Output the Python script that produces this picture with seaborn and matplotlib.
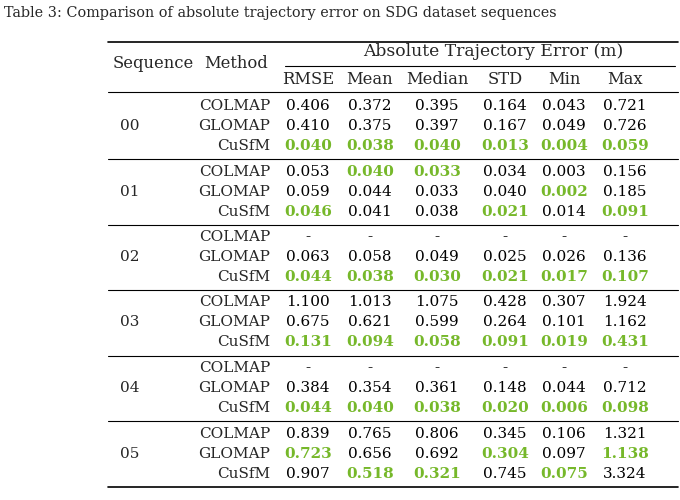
import matplotlib
matplotlib.use("Agg")
import matplotlib.pyplot as plt
import seaborn as sns

sns.set_theme(style="white")
plt.rcParams['font.family'] = ['DejaVu Serif']

title = "Table 3: Comparison of absolute trajectory error on SDG dataset sequences"
sequences = ["00", "01", "02", "03", "04", "05"]
methods = ["COLMAP", "GLOMAP", "CuSfM"]
metrics = ["RMSE", "Mean", "Median", "STD", "Min", "Max"]
values = {
    "00": [["0.406", "0.372", "0.395", "0.164", "0.043", "0.721"],
           ["0.410", "0.375", "0.397", "0.167", "0.049", "0.726"],
           ["0.040", "0.038", "0.040", "0.013", "0.004", "0.059"]],
    "01": [["0.053", "0.040", "0.033", "0.034", "0.003", "0.156"],
           ["0.059", "0.044", "0.033", "0.040", "0.002", "0.185"],
           ["0.046", "0.041", "0.038", "0.021", "0.014", "0.091"]],
    "02": [["-", "-", "-", "-", "-", "-"],
           ["0.063", "0.058", "0.049", "0.025", "0.026", "0.136"],
           ["0.044", "0.038", "0.030", "0.021", "0.017", "0.107"]],
    "03": [["1.100", "1.013", "1.075", "0.428", "0.307", "1.924"],
           ["0.675", "0.621", "0.599", "0.264", "0.101", "1.162"],
           ["0.131", "0.094", "0.058", "0.091", "0.019", "0.431"]],
    "04": [["-", "-", "-", "-", "-", "-"],
           ["0.384", "0.354", "0.361", "0.148", "0.044", "0.712"],
           ["0.044", "0.040", "0.038", "0.020", "0.006", "0.098"]],
    "05": [["0.839", "0.765", "0.806", "0.345", "0.106", "1.321"],
           ["0.723", "0.656", "0.692", "0.304", "0.097", "1.138"],
           ["0.907", "0.518", "0.321", "0.745", "0.075", "3.324"]],
}
# best (green, bold) markers: (method index, metric index)
best = {
    "00": [(2, j) for j in range(6)],
    "01": [(2, 0), (0, 1), (0, 2), (2, 3), (1, 4), (2, 5)],
    "02": [(2, j) for j in range(6)],
    "03": [(2, j) for j in range(6)],
    "04": [(2, j) for j in range(6)],
    "05": [(1, 0), (2, 1), (2, 2), (1, 3), (2, 4), (1, 5)],
}

GREEN = "#76b82a"
fig = plt.figure(figsize=(6.8, 5.0), dpi=100)
ax = fig.add_axes([0, 0, 1, 1])
ax.set_xlim(0, 680)
ax.set_ylim(500, 0)
ax.axis("off")

fs = 11
hfs = 11.8
ax.text(4, 13, title, fontsize=10.4, va="center", ha="left")
L, R = 108, 678
ax.plot([L, R], [42, 42], color="black", lw=1.2)
ax.plot([285, 675], [66, 66], color="black", lw=0.8)
ax.plot([L, R], [92, 92], color="black", lw=0.8)
ax.text(153, 63, "Sequence", fontsize=hfs, ha="center", va="center")
ax.text(236, 63, "Method", fontsize=hfs, ha="center", va="center")
ax.text(493, 51, "Absolute Trajectory Error (m)", fontsize=12.3, ha="center", va="center")
colx = [308, 370, 437, 505, 564, 625]
for x, m in zip(colx, metrics):
    ax.text(x, 80, m, fontsize=hfs, ha="center", va="center")

y0 = 106
group_h = 65.5
row_h = 20
for g, s in enumerate(sequences):
    yt = y0 + g * group_h
    ax.text(120, yt + row_h, s, fontsize=fs, ha="left", va="center")
    for i, m in enumerate(methods):
        y = yt + i * row_h
        ax.text(270, y, m, fontsize=fs, ha="right", va="center")
        for j, x in enumerate(colx):
            b = (i, j) in best[s]
            ax.text(x, y, values[s][i][j], fontsize=fs, ha="center", va="center",
                    color=GREEN if b else "black", fontweight="bold" if b else "normal")
    yl = yt + 2 * row_h + 13
    ax.plot([L, R], [yl, yl], color="black", lw=1.2 if g == len(sequences) - 1 else 0.8)

fig.savefig("out.png", dpi=100)
